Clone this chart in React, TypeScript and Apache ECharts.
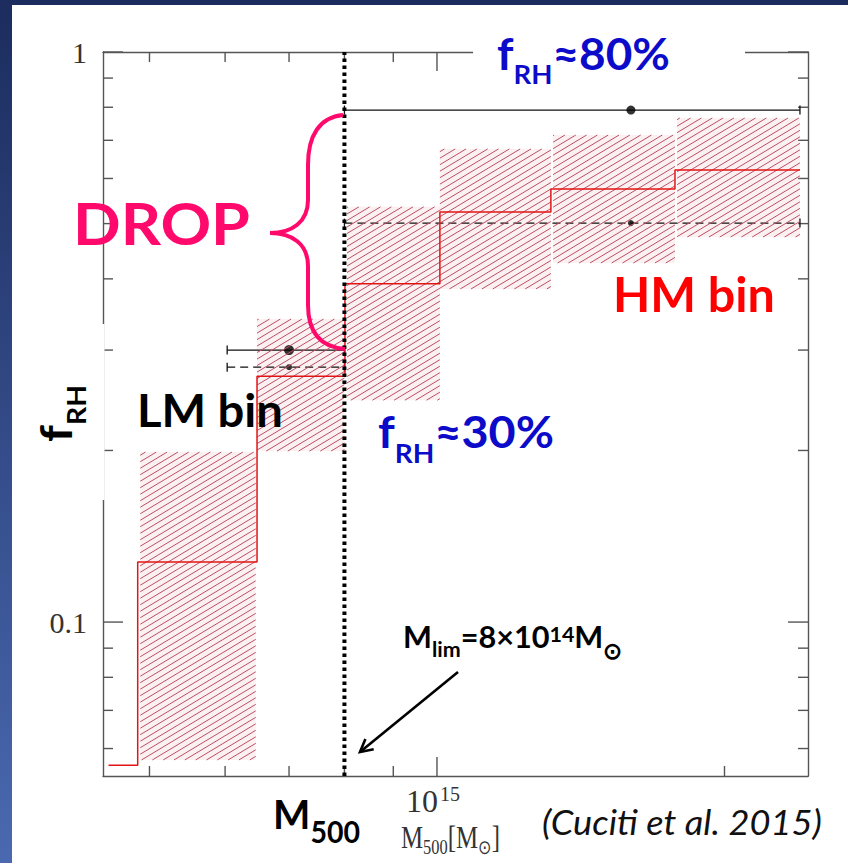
import React, { useEffect, useRef } from 'react';
import * as echarts from 'echarts';

// x in units of 1e14 Msun (log axis), y = f_RH (log axis)
const X_MIN = 4.47;
const X_MAX = 24.46;
const Y_MIN = 0.0537;
const Y_MAX = 1;

const xMinorTicks = [5, 6, 7, 8, 9, 20];
const xMajorTicks = [10];
const xLabelValues = [10];
const xLabelBase = ['10'];
const xLabelExp = ['15'];
const yMinorTicks = [0.06, 0.07, 0.08, 0.09, 0.2, 0.3, 0.4, 0.5, 0.6, 0.7, 0.8, 0.9];
const yMajorTicks = [0.1, 1];
const yTickLabels = ['0.1', '1'];

// red step histogram
const stepX = [4.53, 4.86, 6.48, 8.01, 10.07, 13.16, 17.75, 23.99];
const stepY = [0.0561, 0.1274, 0.27, 0.392, 0.524, 0.575, 0.621, 0.621];

// hatched uncertainty boxes
const boxX0 = [4.89, 6.48, 8.05, 10.07, 13.23, 17.84];
const boxX1 = [6.46, 8.0, 10.07, 13.16, 17.75, 23.99];
const boxLo = [0.0573, 0.1995, 0.245, 0.384, 0.4265, 0.4736];
const boxHi = [0.1987, 0.34, 0.535, 0.676, 0.715, 0.766];

// black points with horizontal bin bars
const ptX = [7.0, 7.0, 15.96, 15.96];
const ptLo = [6.03, 6.03, 8.0, 8.0];
const ptHi = [8.0, 8.0, 23.99, 23.99];
const ptY = [0.3, 0.28, 0.791, 0.501];
const ptDashed = [0, 1, 0, 1];
const ptSize = [10, 6, 9, 6];

const M_LIM = 8;

const BRACE_D =
  'M343,115 C320,117 308,135 308,165 L308,200 C308,222 292,233 270,233 C292,233 308,244 308,266 L308,305 C308,332 320,347 345,349';

let mctx: CanvasRenderingContext2D | null = null;
function measure(text: string, font: string) {
  if (!mctx) mctx = document.createElement('canvas').getContext('2d');
  mctx!.font = font;
  return mctx!.measureText(text);
}
function cssFont(size: number, family: string, weight?: string, italic?: boolean) {
  return `${italic ? 'italic' : 'normal'} ${weight || 'normal'} ${size}px ${family}`;
}
function centerOffset(text: string, font: string, size: number) {
  const m = measure(text, font);
  const asc = (m as any).fontBoundingBoxAscent || size * 0.9;
  const desc = (m as any).fontBoundingBoxDescent || size * 0.22;
  return (asc - desc) / 2;
}

type Part = { t: string; rel?: number; dy?: number };
type RunOpts = {
  x: number; y: number; parts: Part[]; size: number; family: string;
  weight?: string; italic?: boolean; color: string; width?: number; z?: number;
};
// font size sets the height; an optional horizontal squeeze/stretch fits the width
function run(o: RunOpts): any[] {
  const size = o.size;
  const fonts = o.parts.map((p) => cssFont(size * (p.rel ?? 1), o.family, o.weight, o.italic));
  const widths = o.parts.map((p, i) => measure(p.t, fonts[i]).width);
  const total = widths.reduce((a, b) => a + b, 0);
  const sx = o.width && total > 0 ? o.width / total : 1;
  let cx = o.x;
  return o.parts.map((p, i) => {
    const s = size * (p.rel ?? 1);
    const base = o.y + (p.dy ?? 0) * size;
    const el = {
      type: 'text',
      x: cx,
      y: base - centerOffset(p.t, fonts[i], s),
      scaleX: sx,
      z: o.z ?? 60,
      style: {
        text: p.t,
        fontSize: s,
        fontFamily: o.family,
        fontWeight: o.weight || 'normal',
        fontStyle: o.italic ? 'italic' : 'normal',
        fill: o.color,
        align: 'left',
        verticalAlign: 'middle',
      },
    };
    cx += widths[i] * sx;
    return el;
  });
}

const AX = '#555';
const SERIF = 'Liberation Serif';
const SANS = 'Lato';
const BLUE = '#0b0bc9';
const PINK = '#ff0a6c';

function axisX(position: string) {
  return {
    type: 'log', logBase: 10, min: X_MIN, max: X_MAX, position,
    axisLine: { show: true, onZero: false, lineStyle: { color: AX, width: 1.4 } },
    axisTick: { show: false }, axisLabel: { show: false }, splitLine: { show: false },
  };
}
function axisY(position: string) {
  return {
    type: 'log', logBase: 10, min: Y_MIN, max: Y_MAX, position,
    axisLine: { show: true, onZero: false, lineStyle: { color: AX, width: 1.4 } },
    axisTick: { show: false }, axisLabel: { show: false }, splitLine: { show: false },
  };
}

function boxRect(api: any) {
  const tl = api.coord([api.value(0), api.value(3)]);
  const br = api.coord([api.value(1), api.value(2)]);
  return { left: tl[0], top: tl[1], right: br[0], bottom: br[1] };
}

export default function App() {
  const ref = useRef<HTMLDivElement>(null);
  useEffect(() => {
    const el = ref.current!;
    echarts.graphic.registerShape('brace', echarts.graphic.extendPath(BRACE_D, {}) as any);
    const chart = echarts.init(el, null, { renderer: 'svg' });

    const xTickData = [
      ...xMinorTicks.map((v) => [v, Y_MIN, 0]),
      ...xMajorTicks.map((v) => [v, Y_MIN, 1]),
    ];
    const yTickData = [
      ...yMinorTicks.map((v) => [X_MIN, v, 0]),
      ...yMajorTicks.map((v) => [X_MIN, v, 1]),
    ];
    const boxData = boxX0.map((x0, i) => [x0, boxX1[i], boxLo[i], boxHi[i]]);

    const serifLabelSize = 30;

    const texts: any[] = [
      ...run({ x: 497, y: 70, size: 43, width: 173, family: SANS, weight: 'bold', color: BLUE,
        parts: [{ t: 'f' }, { t: 'RH', rel: 0.6, dy: 0.33 }, { t: '≈80%' }] }),
      ...run({ x: 378, y: 448, size: 44, width: 176, family: SANS, weight: 'bold', color: BLUE,
        parts: [{ t: 'f' }, { t: 'RH', rel: 0.6, dy: 0.33 }, { t: '≈30%' }] }),
      ...run({ x: 73, y: 245, size: 58, width: 177, family: SANS, weight: 'bold', color: PINK,
        parts: [{ t: 'DROP' }] }),
      ...run({ x: 137, y: 427, size: 46, width: 146, family: SANS, weight: 'bold', color: '#000',
        parts: [{ t: 'LM bin' }] }),
      ...run({ x: 613, y: 312, size: 48, width: 162, family: SANS, weight: 'bold', color: '#ff0000',
        parts: [{ t: 'HM bin' }] }),
      ...run({ x: 273, y: 829, size: 41, width: 87, family: SANS, weight: 'bold', color: '#000',
        parts: [{ t: 'M' }, { t: '500', rel: 0.72, dy: 0.33 }] }),
      ...run({ x: 403, y: 648, size: 31, width: 219, family: SANS, weight: 'bold', color: '#000',
        parts: [
          { t: 'M' }, { t: 'lim', rel: 0.7, dy: 0.3 }, { t: '=8×10' },
          { t: '14', rel: 0.7, dy: -0.2 }, { t: 'M' }, { t: '⊙', rel: 0.75, dy: 0.35 },
        ] }),
      ...run({ x: 542, y: 836, size: 35, width: 280, family: SANS, italic: true, color: '#111',
        parts: [{ t: '(Cuciti et al. 2015)' }] }),
      ...run({ x: 401, y: 848, size: 31, width: 99, family: SERIF, color: '#333',
        parts: [{ t: 'M' }, { t: '500', rel: 0.66, dy: 0.2 }, { t: '[M' }, { t: '⊙', rel: 0.66, dy: 0.2 }, { t: ']' }] }),
    ];

    const axisTitle = {
      type: 'group', x: 72, y: 442, rotation: Math.PI / 2, z: 60,
      children: run({ x: 0, y: 0, size: 44, width: 57, family: SANS, weight: 'bold', color: '#000',
        parts: [{ t: 'f' }, { t: 'RH', rel: 0.6, dy: 0.31 }] }),
    };

    const option: any = {
      animation: false,
      grid: { left: 103, right: 40, top: 52, bottom: 87 },
      xAxis: [axisX('bottom'), axisX('top')],
      yAxis: [axisY('left'), axisY('right')],
      graphic: {
        elements: [
          {
            type: 'rect', z: -100, silent: true,
            shape: { x: 0, y: 0, width: 848, height: 863 },
            style: {
              fill: new echarts.graphic.LinearGradient(0, 0, 0, 1, [
                { offset: 0, color: '#1c2c5e' },
                { offset: 1, color: '#4a69b0' },
              ]),
            },
          },
          { type: 'rect', z: -99, silent: true, shape: { x: 12, y: 5, width: 836, height: 858 }, style: { fill: '#fff' } },
          { type: 'rect', z: 50, silent: true, shape: { x: 473, y: 18, width: 272, height: 64 }, style: { fill: '#fff' } },
          { type: 'rect', z: 50, silent: true, shape: { x: 12, y: 324, width: 92.5, height: 176 }, style: { fill: '#fff' } },
          { type: 'brace', z: 40, x: 0, y: 0, style: { stroke: PINK, lineWidth: 4, fill: 'none' } },
          { type: 'line', z: 40, shape: { x1: 458, y1: 672, x2: 360, y2: 752 }, style: { stroke: '#000', lineWidth: 2.6 } },
          {
            type: 'polyline', z: 40,
            shape: { points: [[373.7, 749.3], [360, 752], [365.4, 739.1]] },
            style: { stroke: '#000', lineWidth: 2.6, fill: 'none' },
          },
          ...texts,
          axisTitle,
        ],
      },
      series: [
        {
          type: 'custom', name: 'xticks', z: 1, silent: true,
          data: xTickData,
          renderItem: (params: any, api: any) => {
            const v = api.value(0);
            const major = api.value(2) === 1;
            const pb = api.coord([v, Y_MIN]);
            const pt = api.coord([v, Y_MAX]);
            const len = major ? 19 : 10;
            const st = { stroke: AX, lineWidth: 1.4 };
            return {
              type: 'group',
              children: [
                { type: 'line', shape: { x1: pb[0], y1: pb[1], x2: pb[0], y2: pb[1] - len }, style: st },
                { type: 'line', shape: { x1: pt[0], y1: pt[1], x2: pt[0], y2: pt[1] + len }, style: st },
              ],
            };
          },
        },
        {
          type: 'custom', name: 'yticks', z: 1, silent: true,
          data: yTickData,
          renderItem: (params: any, api: any) => {
            const v = api.value(1);
            const major = api.value(2) === 1;
            const pl = api.coord([X_MIN, v]);
            const pr = api.coord([X_MAX, v]);
            const len = major ? 20 : 10;
            const st = { stroke: AX, lineWidth: 1.4 };
            return {
              type: 'group',
              children: [
                { type: 'line', shape: { x1: pl[0], y1: pl[1], x2: pl[0] + len, y2: pl[1] }, style: st },
                { type: 'line', shape: { x1: pr[0], y1: pr[1], x2: pr[0] - len, y2: pr[1] }, style: st },
              ],
            };
          },
        },
        {
          type: 'custom', name: 'ylabels', z: 1, silent: true,
          data: yMajorTicks.map((v, i) => [X_MIN, v, i]),
          renderItem: (params: any, api: any) => {
            const p = api.coord([X_MIN, api.value(1)]);
            const lab = yTickLabels[api.value(2)];
            return {
              type: 'text', x: p[0] - 16, y: p[1],
              style: {
                text: lab, fontSize: serifLabelSize, fontFamily: SERIF, fill: '#333',
                align: 'right', verticalAlign: 'middle',
              },
            };
          },
        },
        {
          type: 'custom', name: 'xlabels', z: 1, silent: true,
          data: xLabelValues.map((v, i) => [v, Y_MIN, i]),
          renderItem: (params: any, api: any) => {
            const p = api.coord([api.value(0), Y_MIN]);
            const i = api.value(2);
            const s1 = 32;
            const s2 = 20;
            const o1 = centerOffset(xLabelBase[i], cssFont(s1, SERIF), s1);
            const o2 = centerOffset(xLabelExp[i], cssFont(s2, SERIF), s2);
            return {
              type: 'group',
              children: [
                {
                  type: 'text', x: p[0] + 1, y: p[1] + 36 - o1,
                  style: { text: xLabelBase[i], fontSize: s1, fontFamily: SERIF, fill: '#333', align: 'right', verticalAlign: 'middle' },
                },
                {
                  type: 'text', x: p[0] + 3, y: p[1] + 25 - o2,
                  style: { text: xLabelExp[i], fontSize: s2, fontFamily: SERIF, fill: '#333', align: 'left', verticalAlign: 'middle' },
                },
              ],
            };
          },
        },
        {
          type: 'custom', name: 'boxFill', z: 1, silent: true,
          data: boxData,
          encode: { x: [0, 1], y: [2, 3] },
          renderItem: (params: any, api: any) => {
            const r = boxRect(api);
            return {
              type: 'rect',
              shape: { x: r.left, y: r.top, width: r.right - r.left, height: r.bottom - r.top },
              style: { fill: 'rgba(235,165,175,0.16)' },
            };
          },
        },
        {
          type: 'custom', name: 'bars', z: 2, silent: true,
          data: ptLo.map((l, i) => [l, ptHi[i], ptY[i], ptDashed[i]]),
          encode: { x: [0, 1], y: 2 },
          renderItem: (params: any, api: any) => {
            const lo = api.coord([api.value(0), api.value(2)]);
            const hi = api.coord([api.value(1), api.value(2)]);
            const dashed = api.value(3) === 1;
            const st: any = { stroke: '#111', lineWidth: 1.3 };
            if (dashed) st.lineDash = [8, 5];
            const cap = { stroke: '#111', lineWidth: 1.3 };
            return {
              type: 'group',
              children: [
                { type: 'line', shape: { x1: lo[0], y1: lo[1], x2: hi[0], y2: hi[1] }, style: st },
                { type: 'line', shape: { x1: lo[0], y1: lo[1] - 4.5, x2: lo[0], y2: lo[1] + 4.5 }, style: cap },
                { type: 'line', shape: { x1: hi[0], y1: hi[1] - 4.5, x2: hi[0], y2: hi[1] + 4.5 }, style: cap },
              ],
            };
          },
        },
        {
          type: 'scatter', name: 'points', z: 2, silent: true,
          data: ptX.map((x, i) => [x, ptY[i]]),
          symbol: 'circle',
          symbolSize: (val: any, params: any) => ptSize[params.dataIndex],
          itemStyle: { color: '#000' },
        },
        {
          type: 'custom', name: 'hatch', z: 3, silent: true,
          data: boxData,
          encode: { x: [0, 1], y: [2, 3] },
          renderItem: (params: any, api: any) => {
            const { left, top, right, bottom } = boxRect(api);
            const m = Math.tan((31 * Math.PI) / 180);
            const s = 6.5;
            const children: any[] = [];
            const cStart = Math.ceil((top + m * left) / s) * s;
            for (let c = cStart; c <= bottom + m * right; c += s) {
              const xa = Math.max(left, (c - bottom) / m);
              const xb = Math.min(right, (c - top) / m);
              if (xb > xa) {
                children.push({
                  type: 'line',
                  shape: { x1: xa, y1: c - m * xa, x2: xb, y2: c - m * xb },
                  style: { stroke: '#bd4f60', lineWidth: 1 },
                });
              }
            }
            return { type: 'group', children };
          },
        },
        {
          type: 'line', name: 'fRH', z: 4, silent: true,
          data: stepX.map((x, i) => [x, stepY[i]]),
          step: 'end', symbol: 'none', showSymbol: false,
          lineStyle: { color: '#e31414', width: 1.5 },
        },
        {
          type: 'line', name: 'Mlim', z: 5, silent: true,
          data: [[M_LIM, Y_MIN], [M_LIM, Y_MAX]],
          symbol: 'none', showSymbol: false, clip: false,
          lineStyle: { color: '#000', width: 4, type: [3.5, 3.5] },
        },
      ],
    };

    chart.setOption(option);
    return () => chart.dispose();
  }, []);

  return (
    <div
      ref={ref}
      style={{ position: 'absolute', left: 0, top: 0, width: 848, height: 863 }}
    />
  );
}
